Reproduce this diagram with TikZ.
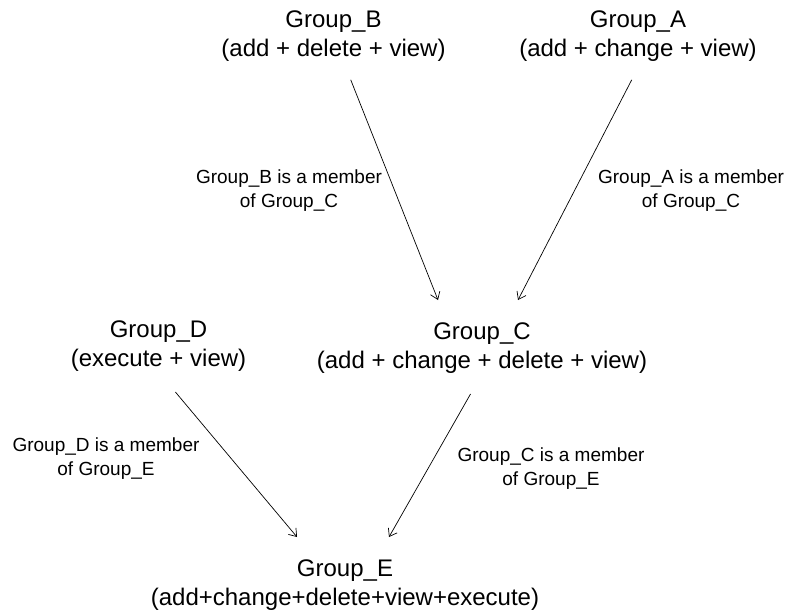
\documentclass[tikz,border=0pt]{standalone}
\usepackage{fontspec}
\setmainfont{Liberation Sans}
\usetikzlibrary{arrows.meta}
\tikzset{
  grp/.style={align=center,inner sep=0pt,font=\fontsize{24}{29}\selectfont},
  memb/.style={align=center,inner sep=0pt,font=\fontsize{19}{23.5}\selectfont},
  arr/.style={-{Straight Barb[length=7pt,width=10pt]},line width=0.7pt},
}

\begin{document}
\begin{tikzpicture}[x=1pt,y=-1pt]
  \useasboundingbox (0,0) rectangle (789,613);
  % groups and their rights
  \node[grp] (gB) at (333.5,36.3) {Group\_B\\(add + delete + view)};
  \node[grp] (gA) at (638,36.3) {Group\_A\\(add + change + view)};
  \node[grp] (gD) at (158.5,346.3) {Group\_D\\(execute + view)};
  \node[grp] (gC) at (482,348.3) {Group\_C\\(add + change + delete + view)};
  \node[grp] (gE) at (345,585.3) {Group\_E\\(add+change+delete+view+execute)};
  % membership notes
  \node[memb] (mBC) at (289,190.8) {Group\_B is a member\\of Group\_C};
  \node[memb] (mAC) at (691,190.8) {Group\_A is a member\\of Group\_C};
  \node[memb] (mDE) at (106,458.8) {Group\_D is a member\\of Group\_E};
  \node[memb] (mCE) at (551,468.8) {Group\_C is a member\\of Group\_E};
  % arrow tips
  \coordinate (tBC) at (438,300);
  \coordinate (tAC) at (518,300);
  \coordinate (tDE) at (297,537);
  \coordinate (tCE) at (389,537);
  \draw[arr,shorten <=19.3pt] (gB) -- (tBC);
  \draw[arr,shorten <=20.2pt] ([xshift=3pt]gA.south) -- (tAC);
  \draw[arr,shorten <=26.3pt] (gD.south) -- (tDE);
  \draw[arr,shorten <=23.1pt] (gC.south) -- (tCE);
\end{tikzpicture}
\end{document}
